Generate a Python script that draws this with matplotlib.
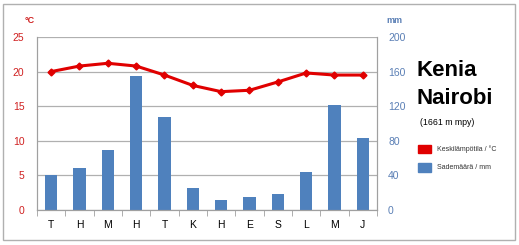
import matplotlib.pyplot as plt
from matplotlib.patches import Rectangle

plt.rcParams['font.family'] = ['Liberation Sans', 'DejaVu Sans']

months = ['T', 'H', 'M', 'H', 'T', 'K', 'H', 'E', 'S', 'L', 'M', 'J']
temp = [20.0, 20.8, 21.2, 20.8, 19.5, 18.0, 17.1, 17.3, 18.5, 19.8, 19.5, 19.5]
rain = [40, 49, 69, 155, 108, 25, 12, 15, 18, 44, 121, 83]

red = '#e00000'
blue = '#4f81bd'
tick_red = '#d02020'
tick_blue = '#5a7fb5'

fig = plt.figure(figsize=(5.19, 2.45), dpi=100)
fig.patches.append(Rectangle((0.005, 0.02), 0.987, 0.965, transform=fig.transFigure,
                             fill=False, edgecolor='#b0b0b0', lw=1))

ax = fig.add_axes([0.0713, 0.143, 0.655, 0.706])
ax2 = ax.twinx()

x = list(range(len(months)))
ax2.bar(x, rain, width=0.43, color=blue, zorder=2)
ax2.set_ylim(0, 200)
ax2.set_yticks(range(0, 201, 40))

ax.set_zorder(ax2.get_zorder() + 1)
ax.patch.set_visible(False)
ax.plot(x, temp, color=red, lw=2.2, marker='D', ms=3.5, zorder=3)
ax.set_ylim(0, 25)
ax.set_xlim(-0.5, 11.5)
ax.set_yticks(range(0, 26, 5))
ax2.yaxis.grid(True, color='#b0b0b0', lw=0.9, zorder=0)
ax2.set_axisbelow(True)

ax.set_xticks(x)
ax.set_xticklabels(months)
ax.set_xticks([i + 0.5 for i in range(-1, 12)], minor=True)
ax.tick_params(axis='x', which='major', length=0, labelsize=7.5, pad=7)
ax.tick_params(axis='x', which='minor', length=4, color='#a0a0a0')
ax.tick_params(axis='y', length=0, labelsize=7.5, labelcolor=tick_red, pad=9)
ax2.tick_params(axis='y', length=0, labelsize=7.5, labelcolor=tick_blue, pad=8)

for a in (ax, ax2):
    a.spines['top'].set_visible(False)
    a.spines['left'].set_color('#a0a0a0')
    a.spines['right'].set_color('#a0a0a0')
    a.spines['bottom'].set_color('#a0a0a0')

fig.text(0.048, 0.905, '°C', color=tick_red, fontsize=6.5, fontweight='bold')
fig.text(0.745, 0.905, 'mm', color=tick_blue, fontsize=6.5, fontweight='bold')

fig.text(0.802, 0.712, 'Kenia', fontsize=16, fontweight='bold', va='center')
fig.text(0.802, 0.600, 'Nairobi', fontsize=16, fontweight='bold', va='center')
fig.text(0.81, 0.5, '(1661 m mpy)', fontsize=6.3, va='center')

fig.patches.append(Rectangle((0.806, 0.375), 0.025, 0.033, transform=fig.transFigure,
                             color=red))
fig.text(0.842, 0.391, 'Keskilämpötila / °C', fontsize=5, va='center', color='#333333')
fig.patches.append(Rectangle((0.806, 0.30), 0.025, 0.033, transform=fig.transFigure,
                             color=blue))
fig.text(0.842, 0.316, 'Sademäärä / mm', fontsize=5, va='center', color='#333333')

fig.savefig('out.png', dpi=100)
